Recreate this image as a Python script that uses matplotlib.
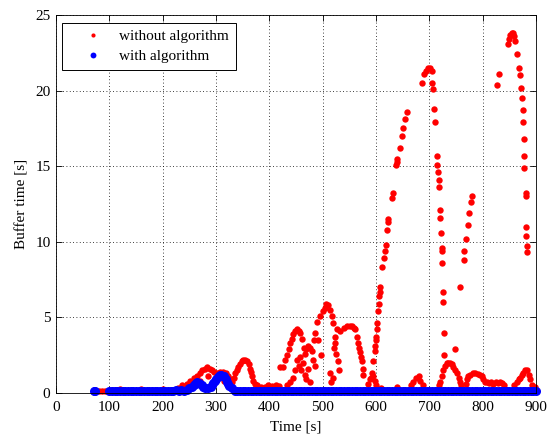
import numpy as np
import matplotlib.pyplot as plt

# red: without algorithm (time [s], buffer time [s])
red_t = [80, 86, 92, 105, 120, 140, 160, 180, 200, 215, 228,
         236, 245, 252, 258, 264, 269, 274, 279, 283, 288, 292, 297, 302, 307, 313, 318, 322, 326, 330,
         270, 285, 300, 315,
         333, 336, 339, 342, 345, 348, 351, 354, 358, 361, 363, 365, 368, 370, 373, 376,
         385, 392, 398, 405, 412, 418,
         420, 426, 430, 433, 436, 439, 442, 445, 448, 451, 455, 458, 461, 464,
         433, 439, 445, 448, 451, 455, 458, 460, 463,
         466, 469, 473, 476, 479, 482, 485, 466, 468, 472, 476,
         483, 486, 490, 495, 500, 504, 507, 510, 514, 517, 520,
         492, 496, 514, 516, 519,
         523, 523, 525, 522, 526, 529, 531, 532, 539, 545, 551, 554, 558, 561, 564, 566, 568, 570, 571, 573, 575, 576,
         585, 588, 590, 592, 595, 598, 600,
         595, 598, 598, 600, 600, 601, 602, 604, 605, 606, 607, 607, 611, 614, 617, 619, 621, 623, 623,
         630, 631, 637, 639, 640, 645, 649, 651, 654, 658,
         686, 689, 693, 697, 701, 704, 705, 706, 709, 711, 714, 715, 716, 717, 718, 719, 719, 721, 723, 723,
         724, 725, 726, 728, 728,
         757, 765, 765, 768, 772, 775, 778, 780, 748,
         718, 720, 723, 726, 729, 732, 735, 738, 742, 745, 748, 752, 755, 757, 760,
         768, 770, 773, 776, 781, 786, 791, 795, 798, 801, 804,
         808, 812, 816, 820, 824, 828, 832, 836, 840,
         826, 830, 847, 849, 851, 854, 857, 859, 861, 864, 868, 869, 872, 874, 875, 875, 877, 877, 878,
         881, 881, 881, 881, 882, 882,
         858, 864, 867, 870, 873, 876, 880, 883, 886, 889, 893, 897,
         665, 670, 675, 680, 683, 687, 640, 610]
red_v = [0.1, 0.1, 0.1, 0.2, 0.25, 0.2, 0.25, 0.2, 0.25, 0.2, 0.35,
         0.5, 0.6, 0.8, 1.0, 1.1, 1.3, 1.5, 1.6, 1.7, 1.6, 1.5, 1.4, 1.3, 1.4, 1.4, 1.3, 1.1, 0.9, 0.7,
         0.8, 1.1, 0.9, 0.8,
         1.0, 1.3, 1.5, 1.7, 1.9, 2.1, 2.2, 2.2, 2.1, 1.9, 1.6, 1.4, 1.1, 0.8, 0.6, 0.5,
         0.4, 0.4, 0.5, 0.45, 0.5, 0.45,
         1.7, 1.7, 2.2, 2.5, 2.9, 3.3, 3.6, 3.9, 4.1, 4.2, 4.1, 4.0, 3.6, 3.0,
         0.5, 0.7, 1.0, 1.5, 2.2, 1.8, 2.4, 1.5, 2.0,
         2.6, 2.9, 3.1, 3.0, 2.8, 2.2, 1.8, 1.2, 0.9, 1.6, 0.7,
         3.5, 4.0, 4.7, 5.1, 5.4, 5.6, 5.9, 5.8, 5.5, 5.1, 4.6,
         3.5, 2.5, 1.3, 0.7, 1.0,
         3.7, 3.3, 2.6, 3.0, 4.2, 2.1, 1.5, 4.1, 4.3, 4.4, 4.4, 4.4, 4.3, 4.2, 3.7, 3.3, 3.0, 2.7, 2.4, 2.1, 1.6, 1.2,
         0.6, 0.9, 1.0, 1.3, 1.1, 0.8, 0.5,
         2.1, 2.8, 3.1, 3.5, 3.7, 4.2, 4.6, 5.4, 5.9, 6.4, 7.0, 6.7, 8.3, 8.9, 9.4, 9.8, 10.8, 11.3, 11.5,
         12.9, 13.2, 15.1, 15.5, 15.3, 16.2, 17.0, 17.5, 18.1, 18.6,
         20.5, 21.1, 21.3, 21.5, 21.5, 21.3, 20.5, 20.1, 18.8, 17.9, 15.7, 15.1, 14.6, 14.1, 13.6, 12.1, 11.6, 10.6, 9.6, 9.4,
         8.6, 6.7, 6.0, 4.0, 2.5,
         7.0, 8.8, 9.4, 10.2, 11.1, 11.9, 12.6, 13.0, 2.9,
         0.5, 0.7, 1.1, 1.5, 1.8, 2.0, 2.0, 2.0, 1.9, 1.7, 1.5, 1.3, 1.0, 0.7, 0.5,
         0.6, 0.9, 1.1, 1.2, 1.3, 1.3, 1.25, 1.2, 1.1, 0.9, 0.7,
         0.7, 0.65, 0.7, 0.6, 0.7, 0.65, 0.7, 0.65, 0.5,
         20.4, 21.1, 23.1, 23.4, 23.7, 23.8, 23.8, 23.6, 23.3, 22.4, 21.5, 21.0, 20.2, 19.5, 18.7, 17.9, 16.8, 15.7, 14.9,
         13.2, 13.0, 11.0, 10.4, 9.7, 9.3,
         0.5, 0.7, 0.9, 1.0, 1.2, 1.3, 1.5, 1.5, 1.2, 0.9, 0.5, 0.4,
         0.5, 0.7, 1.0, 1.1, 0.8, 0.5, 0.4, 0.3]

# blue: with algorithm, mostly sitting on zero
blue_t = [72, 73,
          100, 105, 110, 115, 120, 125, 130, 135, 140, 145, 150, 155, 160, 165, 170, 175, 180, 185, 190, 195,
          200, 205, 210, 215, 220, 225, 230, 235, 240, 245, 250, 255, 260, 265, 270, 275, 280, 285, 290, 295,
          300, 305, 310, 315, 320, 325, 330, 335, 340, 345, 350, 355, 360, 365, 370, 375, 380, 385, 390, 395,
          400, 405, 410, 415, 420, 425, 430, 435, 440, 445, 450, 455, 460, 465, 470, 475, 480, 485, 490, 495,
          500, 505, 510, 515, 520, 525, 530, 535, 540, 545, 550, 555, 560, 565, 570, 575, 580, 585, 590, 595,
          600, 605, 610, 615, 620, 625, 630, 635, 640, 645, 650, 655, 660, 665, 670, 675, 680, 685, 690, 695,
          700, 705, 710, 715, 720, 725, 730, 735, 740, 745, 750, 755, 760, 765, 770, 775, 780, 785, 790, 795,
          800, 805, 810, 815, 820, 825, 830, 835, 840, 845, 850, 855, 860, 865, 870, 875, 880, 885, 890, 895,
          900,
          258, 263, 268, 273, 293, 298, 303, 308, 313, 318, 323]
blue_v = [0.1, 0.1,
          0.15, 0.1, 0.15, 0.1, 0.15, 0.1, 0.15, 0.1, 0.1, 0.15, 0.1, 0.15, 0.1, 0.1, 0.15, 0.1, 0.15, 0.1, 0.1, 0.15,
          0.1, 0.15, 0.1, 0.15, 0.1, 0.2, 0.15, 0.2, 0.15, 0.2, 0.3, 0.4, 0.6, 0.7, 0.6, 0.4, 0.3, 0.3, 0.4, 0.65,
          0.95, 1.15, 1.2, 1.1, 0.7, 0.45, 0.3, 0.15, 0.1, 0.15, 0.1, 0.15, 0.1, 0.1, 0.15, 0.1, 0.1, 0.15, 0.1, 0.1,
          0.15, 0.1, 0.1, 0.15, 0.1, 0.1, 0.15, 0.1, 0.1, 0.15, 0.1, 0.1, 0.15, 0.1, 0.1, 0.15, 0.1, 0.1, 0.15, 0.1,
          0.1, 0.15, 0.1, 0.1, 0.15, 0.1, 0.1, 0.15, 0.1, 0.1, 0.15, 0.1, 0.1, 0.15, 0.1, 0.1, 0.15, 0.1, 0.1, 0.15,
          0.1, 0.1, 0.15, 0.1, 0.1, 0.15, 0.1, 0.1, 0.15, 0.1, 0.1, 0.15, 0.1, 0.1, 0.15, 0.1, 0.1, 0.15, 0.1, 0.1,
          0.15, 0.1, 0.1, 0.15, 0.1, 0.1, 0.15, 0.1, 0.1, 0.15, 0.1, 0.1, 0.15, 0.1, 0.1, 0.15, 0.1, 0.1, 0.15, 0.1,
          0.1, 0.15, 0.1, 0.1, 0.15, 0.1, 0.1, 0.15, 0.1, 0.1, 0.15, 0.1, 0.1, 0.15, 0.1, 0.1, 0.15, 0.1, 0.1, 0.15,
          0.1,
          0.5, 0.65, 0.65, 0.5, 0.5, 0.8, 1.05, 1.2, 1.15, 0.9, 0.6]

xticks = [0, 100, 200, 300, 400, 500, 600, 700, 800, 900]
yticks = [0, 5, 10, 15, 20, 25]

plt.rcParams['font.family'] = ['Liberation Serif', 'DejaVu Serif']
plt.rcParams['font.size'] = 11

fig = plt.figure(figsize=(5.55, 4.37), dpi=100)
ax = fig.add_axes([0.101, 0.1007, 0.865, 0.865])

ax.plot(red_t, red_v, 'o', color='red', ms=4.6, mew=0, label='without algorithm', clip_on=False)
ax.plot(blue_t, blue_v, 'o', color='blue', ms=6.5, mew=0, label='with algorithm', clip_on=False)

ax.set_xlim(0, 900)
ax.set_ylim(0, 25)
ax.set_xticks(xticks)
ax.set_yticks(yticks)
ax.tick_params(direction='in', top=True, right=True, length=4, width=0.6, labelsize=11, pad=4)
ax.tick_params(axis='x', pad=5.5)
ax.grid(True, color='black', linestyle=(0, (1, 3)), linewidth=0.6)
for sp in ax.spines.values():
    sp.set_linewidth(0.6)

ax.set_xlabel('Time [s]', labelpad=5)
ax.set_ylabel('Buffer time [s]', labelpad=5)

leg = ax.legend(loc='upper left', bbox_to_anchor=(0.0125, 0.979), borderaxespad=0, fancybox=False,
                framealpha=1, edgecolor='black', markerscale=0.65, handlelength=3.2, handletextpad=0.1,
                borderpad=0.45, labelspacing=0.4)
leg.get_frame().set_linewidth(0.7)

fig.savefig('out.png', dpi=100)
